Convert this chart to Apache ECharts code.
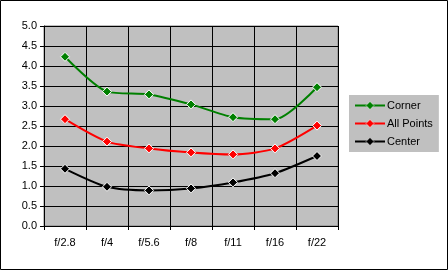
<!DOCTYPE html>
<html><head><meta charset="utf-8">
<script src="https://cdn.jsdelivr.net/npm/echarts@6/dist/echarts.min.js"></script>
<style>html,body{margin:0;padding:0;background:#fff}#c{width:448px;height:270px}</style>
</head><body><div id="c"></div>
<script>
const categories = ['f/2.8','f/4','f/5.6','f/8','f/11','f/16','f/22'];
const corner = [4.23, 3.36, 3.29, 3.04, 2.72, 2.67, 3.47];
const allPoints = [2.67, 2.11, 1.94, 1.84, 1.79, 1.94, 2.51];
const center = [1.43, 0.98, 0.89, 0.94, 1.09, 1.32, 1.75];
const seriesNames = ['Corner','All Points','Center'];
const seriesColors = ['#008000','#ff0000','#000000'];
const seriesData = [corner, allPoints, center];

const chart = echarts.init(document.getElementById('c'), null, {renderer:'canvas'});
const font = 'Liberation Sans, Arial, sans-serif';
chart.setOption({
  animation:false,
  textStyle:{fontFamily:font},
  grid:{left:44,right:110,top:26,bottom:44,show:true,backgroundColor:'#c0c0c0',borderColor:'#808080',borderWidth:1},
  xAxis:{type:'category',data:categories,boundaryGap:true,
    axisLine:{lineStyle:{color:'#000',width:1}},
    axisTick:{show:true,length:4,lineStyle:{color:'#000'}},
    splitLine:{show:true,lineStyle:{color:'#000',width:1}},
    axisLabel:{color:'#000',fontSize:11,fontFamily:font,margin:11}},
  yAxis:{type:'value',min:0,max:5,interval:0.5,
    axisLine:{show:true,lineStyle:{color:'#000',width:1}},
    axisTick:{show:true,length:4,lineStyle:{color:'#000'}},
    splitLine:{show:true,lineStyle:{color:'#000',width:1}},
    axisLabel:{color:'#000',fontSize:11,fontFamily:font,margin:7,formatter:v=>v.toFixed(1)}},
  legend:{orient:'vertical',left:349,top:95,width:91,backgroundColor:'#c0c0c0',
    padding:[5,6,5,5],itemGap:7,itemWidth:30,itemHeight:10,
    textStyle:{color:'#000',fontSize:11,fontFamily:font,padding:[0,0,0,-3]},
    data:seriesNames.map((n,i)=>({name:n,
      itemStyle:{color:seriesColors[i],borderColor:'#fff',borderWidth:0.5},
      lineStyle:{color:seriesColors[i],width:2}}))},
  graphic:[{type:'rect',shape:{x:0.5,y:0.5,width:447,height:269},style:{fill:'none',stroke:'#000',lineWidth:1},z:100}],
  series: seriesNames.map((n,i)=>({
    name:n,type:'line',data:seriesData[i],smooth:0.25,
    symbol:'diamond',symbolSize:9,
    lineStyle:{color:seriesColors[i],width:2},
    itemStyle:{color:seriesColors[i],borderColor:'#fff',borderWidth:1}
  }))
});
</script></body></html>
